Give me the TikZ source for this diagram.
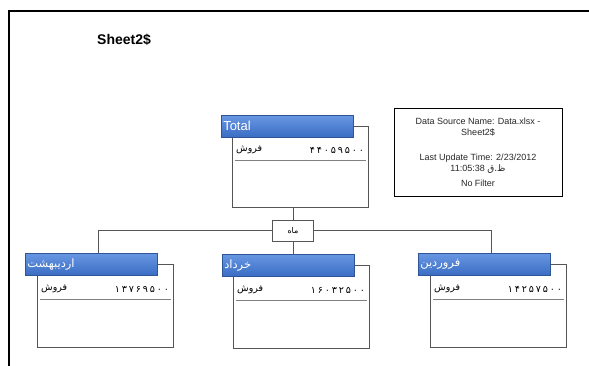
\documentclass[tikz,border=0pt]{standalone}
\usepackage{fontspec}
\setmainfont{Liberation Sans}
\newfontfamily\arabicfont[Script=Arabic]{DejaVu Sans}
\newfontfamily\digitfont[Script=Arabic,LetterSpace=20]{DejaVu Sans}
\TeXXeTstate=1
\definecolor{hdrtop}{RGB}{104,152,226}
\definecolor{hdrbot}{RGB}{58,108,196}
\definecolor{hdrline}{RGB}{47,85,151}
\definecolor{framegray}{RGB}{85,85,85}
\begin{document}
\begin{tikzpicture}[x=1pt,y=-1pt,
  bodybox/.style={draw=framegray, line width=1.3pt, fill=white, minimum width=136pt, minimum height=83pt, inner sep=0pt, anchor=north west},
  hdrbox/.style={draw=hdrline, line width=0.5pt, top color=hdrtop, bottom color=hdrbot, text=white, anchor=north west, minimum height=22pt, text width=128pt, inner xsep=2pt, inner ysep=0pt, align=left},
  lattxt/.style={font=\fontsize{13}{14}\selectfont},
  arhdr/.style={font=\arabicfont\fontsize{11.5}{13}\selectfont},
  rowtxt/.style={font=\arabicfont\fontsize{9.5}{11}\selectfont, inner sep=0pt},
  digtxt/.style={font=\digitfont\fontsize{9.5}{11}\selectfont, inner sep=0pt},
  sepline/.style={draw=gray, line width=1pt},
  conn/.style={draw=framegray, line width=1pt},
  infotxt/.style={font=\fontsize{9}{11}\selectfont, text=black!85, align=center},
]
\useasboundingbox (0,0) rectangle (589,366);
% outer frame
\draw[line width=1.8pt] (9,366) -- (9,11) -- (589,11);
% title
\node[anchor=west, font=\bfseries\fontsize{14}{16}\selectfont, inner sep=0pt] (title) at (97,40) {Sheet2\$};

% info box
\node[draw=black, line width=0.8pt, minimum width=168pt, minimum height=88pt, infotxt] (info) at (478,152)
  {Data Source Name: Data.xlsx -\\ Sheet2\$\\[14pt] Last Update Time: 2/23/2012\\ 11:05:38 {\arabicfont ظ.ق}\\[4pt] No Filter};

% Total
\node[bodybox, minimum height=81pt] (tb) at (232,126) {};
\node[hdrbox, lattxt] (th) at (221,115) {Total};
\node[rowtxt, anchor=west] (tl) at ([shift={(4,24)}]tb.north west) {\beginR فروش\endR};
\node[digtxt, anchor=east] (tv) at ([shift={(-5,24)}]tb.north east) {۴۴۰۵۹۵۰۰};
\draw[sepline] ([shift={(3,35)}]tb.north west) -- ([shift={(-3,35)}]tb.north east);

% Left
\node[bodybox] (lb) at (37,264) {};
\node[hdrbox, arhdr] (lh) at (25,253) {\beginR اردیبهشت\endR};
\node[rowtxt, anchor=west] (ll) at ([shift={(4,25)}]lb.north west) {\beginR فروش\endR};
\node[digtxt, anchor=east] (lv) at ([shift={(-5,25)}]lb.north east) {۱۳۷۶۹۵۰۰};
\draw[sepline] ([shift={(3,35)}]lb.north west) -- ([shift={(-3,35)}]lb.north east);

% Middle
\node[bodybox] (mb) at (233,265) {};
\node[hdrbox, arhdr] (mh) at (222,254) {\beginR خرداد\endR};
\node[rowtxt, anchor=west] (ml) at ([shift={(4,25)}]mb.north west) {\beginR فروش\endR};
\node[digtxt, anchor=east] (mv) at ([shift={(-5,25)}]mb.north east) {۱۶۰۳۲۵۰۰};
\draw[sepline] ([shift={(3,35)}]mb.north west) -- ([shift={(-3,35)}]mb.north east);

% Right
\node[bodybox] (rb) at (430,264) {};
\node[hdrbox, arhdr] (rh) at (418,253) {\beginR فروردین\endR};
\node[rowtxt, anchor=west] (rl) at ([shift={(4,25)}]rb.north west) {\beginR فروش\endR};
\node[digtxt, anchor=east] (rv) at ([shift={(-5,25)}]rb.north east) {۱۴۲۵۷۵۰۰};
\draw[sepline] ([shift={(3,35)}]rb.north west) -- ([shift={(-3,35)}]rb.north east);

% grouping box
\node[draw=framegray, line width=1pt, fill=white, minimum width=41pt, minimum height=21pt, inner sep=0pt, font=\arabicfont\fontsize{8}{9}\selectfont] (mah) at (293,231) {\beginR ماه\endR};

\coordinate (cL) at (98,253);
\coordinate (cR) at (491,253);
% connectors
\draw[conn] (mah.north) -- (mah.north |- tb.south);
\draw[conn] (mah.west) -| (cL);
\draw[conn] (mah.east) -| (cR);
\draw[conn] (mah.south) -- (mah.south |- mh.north);
\end{tikzpicture}
\end{document}
